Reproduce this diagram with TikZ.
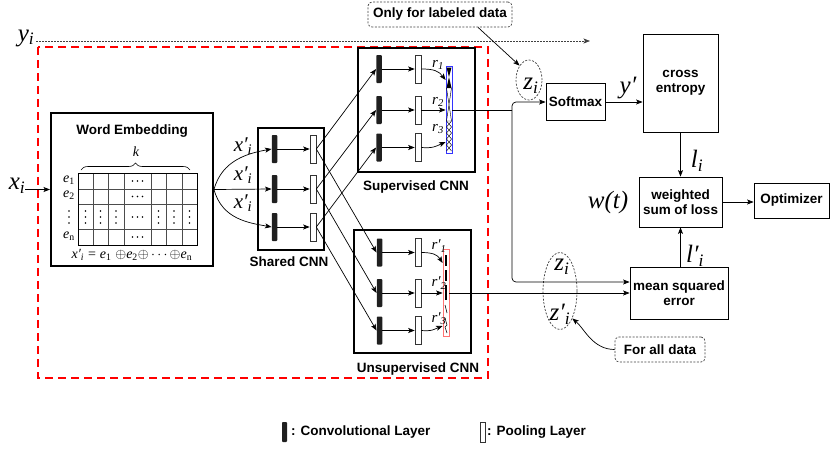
\documentclass[tikz,border=0pt]{standalone}
\usepackage{fix-cm}
\usepackage{fontspec}
\setmainfont{Liberation Sans}
\newfontfamily\tmfont{Liberation Serif}
\newcommand{\myvar}[2]{{\tmfont\itshape #1\textsubscript{#2}}}
\newcommand{\myvr}[2]{{\tmfont\itshape #1\textsubscript{\upshape #2}}}
\usetikzlibrary{arrows.meta,shapes.geometric,decorations.pathreplacing,calc}
\begin{document}
\begin{tikzpicture}[x=1pt,y=-1pt,
  >={Stealth[length=6.5pt,width=5pt,inset=1.5pt]},
  lbl/.style={font=\fontsize{13.5}{15}\selectfont\bfseries, align=center, inner sep=0pt},
  bigbox/.style={draw, line width=2pt, inner sep=0pt},
  thinbox/.style={draw, line width=0.8pt, inner sep=0pt, font=\fontsize{13.5}{15.5}\selectfont\bfseries, align=center},
  convbar/.style={fill=black!88, minimum width=5.5pt, minimum height=28pt, inner sep=0pt, rounded corners=0.8pt},
  poolbar/.style={draw=black!80, fill=white, line width=0.6pt, minimum width=6pt, minimum height=28pt, inner sep=0pt},
  conn/.style={line width=0.7pt, ->},
  big/.style={inner sep=0pt, font=\fontsize{25}{25}\selectfont},
  mid/.style={inner sep=0pt, font=\fontsize{21}{21}\selectfont},
  sml/.style={inner sep=0pt, font=\fontsize{15}{15}\selectfont},
  tiny/.style={inner sep=0pt, font=\fontsize{14}{14}\selectfont},
  dotbox/.style={draw=black!75, line width=0.7pt, dash pattern=on 2pt off 1.5pt},
]
\useasboundingbox (0,0) rectangle (830,453);

% ---------- inputs ----------
\node[big] (xi) at (17,186) {\myvar{x}{i}};
\node[big] (yi) at (26,38) {\myvar{y}{i}};
\coordinate (ystart) at (36,41);
\coordinate (yend) at (590,41);
\draw[->, black!75, line width=0.7pt, dash pattern=on 1.5pt off 1.5pt] (ystart) -- (yend);

% ---------- red dashed region ----------
\draw[red, line width=2.2pt, dash pattern=on 8pt off 5pt] (38,47) rectangle (488,378);

% ---------- word embedding ----------
\node[bigbox, minimum width=162pt, minimum height=153pt] (we) at (132,189.5) {};
\node[lbl] (wet) at (132,131) {Word Embedding};
\foreach \x in {93,108,124,151,166,182} \draw[black!70, line width=0.6pt] (\x,173) -- (\x,245);
\foreach \y in {189,204,229} \draw[black!70, line width=0.6pt] (78,\y) -- (197,\y);
\draw[line width=0.7pt] (78,173) rectangle (197,245);
\foreach \y in {181,196.5,217,237}
  \foreach \dx in {-5,0,5} \fill ($(137.5,\y)+(\dx,0)$) circle (0.9pt);
\foreach \x in {69,85.5,100.5,116,158.5,174,189.5}
  \foreach \dy in {-6,0,6} \fill ($(\x,217)+(0,\dy)$) circle (0.9pt);
\node[tiny] (e1) at (69,180) {\myvr{e}{1}};
\node[tiny] (e2) at (69,195) {\myvr{e}{2}};
\node[tiny] (en) at (69,236) {\myvr{e}{n}};
\draw[line width=0.6pt, decorate, decoration={brace, amplitude=7pt}] (81,170) -- (190,170);
\node[tiny] (k) at (136,152) {{\tmfont\itshape k}};
\node[tiny] (form) at (132,255) {{\tmfont\itshape x′\textsubscript{i}} {\tmfont =} \myvr{e}{1} $\oplus$\myvr{e}{2}$\oplus\cdots\oplus$\myvr{e}{n}};
\draw[conn] (xi.east |- we.west) -- (we.west);

% ---------- shared CNN ----------
\node[bigbox, minimum width=66pt, minimum height=122pt] (shbox) at (291,189) {};
\node[lbl] (shl) at (289,262) {Shared CNN};
\foreach \y [count=\i] in {149,189,227} {
  \node[convbar] (shc\i) at (274.5,\y) {};
  \node[poolbar] (shp\i) at (313,\y) {};
  \draw[conn] (shc\i.east) -- (shp\i.west);
}
\draw[conn] (we.east) .. controls +(8,-30) and +(-22,4) .. (shc1.west);
\draw[conn] (we.east) -- (shc2.west);
\draw[conn] (we.east) .. controls +(8,30) and +(-22,-4) .. (shc3.west);
\node[mid] (xp1) at (243,146) {\myvar{x′}{i}};
\node[mid] (xp2) at (243,175) {\myvar{x′}{i}};
\node[mid] (xp3) at (243,203) {\myvar{x′}{i}};

% ---------- supervised CNN ----------
\node[bigbox, minimum width=117pt, minimum height=124pt] (supbox) at (416.5,110) {};
\node[lbl] (supl) at (416,187) {Supervised CNN};
\foreach \y [count=\i] in {69,110,147.5} {
  \node[convbar] (suc\i) at (379,\y) {};
  \node[poolbar] (sup\i) at (418,\y) {};
  \draw[conn] (suc\i.east) -- (sup\i.west);
}
\node[draw=blue!80, line width=0.8pt, minimum width=6pt, minimum height=87pt, inner sep=0pt] (rv) at (449,110) {};
\fill (446.5,67.5) -- (451.5,67.5) -- (449,77) -- cycle;
\fill (449,77) -- (451.5,88) -- (446.5,88) -- cycle;
\draw[line width=0.45pt] (446.5,88) -- (451.5,121) (451.5,88) -- (446.5,121) (446.5,121) -- (451.5,121);
\draw[line width=0.45pt] (446.5,121) -- (451.5,127) -- (446.5,133) -- (451.5,139) -- (446.5,145) -- (451.5,151)
                         (451.5,121) -- (446.5,127) -- (451.5,133) -- (446.5,139) -- (451.5,145) -- (446.5,151);
\coordinate (r1in) at ($(rv.west)+(0,-30)$);
\coordinate (r3in) at ($(rv.west)+(0,32)$);
\draw[conn] (sup1.east) .. controls +(13,0) and +(-7,-9) .. (r1in);
\draw[conn] (sup2.east) -- (rv.west);
\draw[conn] (sup3.east) .. controls +(12,1) and +(-9,4) .. (r3in);
\node[sml] (r1) at (438,65) {\myvar{r}{1}};
\node[sml] (r2) at (438,102) {\myvar{r}{2}};
\node[sml] (r3) at (438,129) {\myvar{r}{3}};

% ---------- unsupervised CNN ----------
\node[bigbox, minimum width=117pt, minimum height=123pt] (unbox) at (412.5,291.5) {};
\node[lbl] (unl) at (418,369) {Unsupervised CNN};
\foreach \y [count=\i] in {252.5,293,330.5} {
  \node[convbar] (unc\i) at (379.5,\y) {};
  \node[poolbar] (unp\i) at (418,\y) {};
  \draw[conn] (unc\i.east) -- (unp\i.west);
}
\node[draw=red!55, line width=0.8pt, minimum width=6pt, minimum height=87pt, inner sep=0pt] (ruv) at (446,293) {};
\draw[line width=1.3pt] (446,255) -- (446,266) (446,270) -- (446,281) (446,285) -- (446,300);
\draw[line width=0.6pt] (445,305) -- (447,313) (445,318) -- (447,325) -- (445,327) -- (447,333);
\coordinate (u1in) at ($(ruv.west)+(0,-30)$);
\coordinate (u3in) at ($(ruv.west)+(0,33)$);
\draw[conn] (unp1.east) .. controls +(12,0) and +(-5,-8) .. (u1in);
\draw[conn] (unp2.east) -- (ruv.west);
\draw[conn] (unp3.east) .. controls +(11,1) and +(-8,3) .. (u3in);
\node[sml] (ru1) at (439,246) {\myvar{r′}{1}};
\node[sml] (ru2) at (439,283) {\myvar{r′}{2}};
\node[sml] (ru3) at (439,319) {\myvar{r′}{3}};

% shared -> branches
\foreach \i in {1,2,3} {
  \draw[conn] (shp\i.east) -- (suc\i.west);
  \draw[conn] (shp\i.east) -- (unc\i.west);
}

% ---------- right side ----------
\node[thinbox, minimum width=59pt, minimum height=37pt] (sm) at (575.5,102) {Softmax};
\node[thinbox, minimum width=75pt, minimum height=98pt] (ce) at (680.5,83) {cross\\entropy};
\node[thinbox, minimum width=83pt, minimum height=50pt] (ws) at (680.5,202) {weighted\\sum of loss};
\node[thinbox, minimum width=75pt, minimum height=35pt] (opt) at (791.5,200.5) {Optimizer};
\node[thinbox, minimum width=98pt, minimum height=52pt] (mse) at (679,293) {mean squared\\error};
\node[thinbox, dotbox, rounded corners=4pt, minimum width=144pt, minimum height=25pt] (only) at (440,14.5) {Only for labeled data};
\node[thinbox, dotbox, rounded corners=4pt, minimum width=90pt, minimum height=25pt] (fa) at (660,349.5) {For all data};

\node[ellipse, dotbox, minimum width=26pt, minimum height=40pt, inner sep=0pt] (ze) at (529,80) {};
\node[big] (zt) at (531,86) {\myvar{z}{i}};
\node[ellipse, dotbox, minimum width=34pt, minimum height=77pt, inner sep=0pt] (ze2) at (560,291) {};
\node[big] (zt2) at (562,267) {\myvar{z}{i}};
\node[big] (zt3) at (560,314) {\myvar{z′}{i}};

\coordinate (split) at (512,110);
\coordinate (msein) at ($(mse.west)+(0,-11)$);
\draw[line width=0.7pt] (rv.east) -- (split);
\draw[conn, rounded corners=4pt] (split) |- (sm.west);
\draw[conn, rounded corners=4pt] (split) |- (msein);
\draw[conn] (ruv.east) -- (mse.west);
\draw[conn] ($(only.south)+(38,0)$) -- (ze.north west);
\draw[conn] (fa.west) .. controls +(-22,0) and +(12,10) .. (ze2.south east);

\draw[conn] (sm.east) -- (ce.west |- sm.east);
\draw[conn] (ce.south) -- (ws.north);
\draw[conn] (ws.east) -- (opt.west |- ws.east);
\draw[conn] (ws.south |- mse.north) -- (ws.south);

\node[big] (yp) at (628,88) {{\tmfont\itshape y′}};
\node[big] (li) at (697,161) {\myvar{l}{i}};
\node[big] (lpi) at (695,256) {\myvar{l′}{i}};
\node[big] (wt) at (608,202) {{\tmfont\itshape w(t)}};

% ---------- legend ----------
\node[convbar, minimum height=20pt, minimum width=5pt] (lc) at (284.5,432) {};
\node[lbl, anchor=west] (lct) at (291,432) {: Convolutional Layer};
\node[poolbar, minimum height=20pt, minimum width=5pt] (lp) at (482.5,432) {};
\node[lbl, anchor=west] (lpt) at (487,432) {: Pooling Layer};
\end{tikzpicture}
\end{document}
